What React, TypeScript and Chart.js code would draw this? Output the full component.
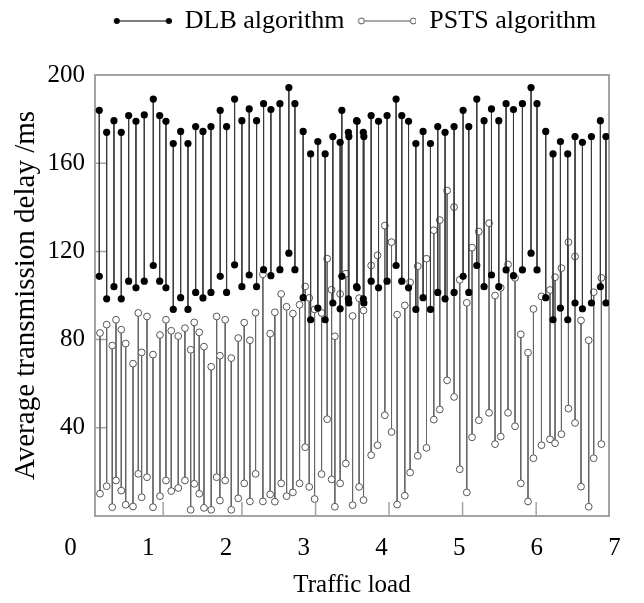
import React, { useEffect, useRef } from 'react';
import { Chart, registerables } from 'chart.js';

Chart.register(...registerables);

const seriesNames = ['DLB algorithm', 'PSTS algorithm'];

const dlbLoad = [0.370,0.465,0.559,0.653,0.748,0.842,0.949,1.065,1.147,1.228,1.322,1.417,1.511,1.610,1.704,1.807,1.926,2.008,2.111,2.205,2.299,2.394,2.484,2.578,2.694,2.809,2.887,2.993,3.089,3.182,3.276,3.375,3.469,3.491,3.575,3.581,3.680,3.688,3.767,3.774,3.868,3.963,4.073,4.189,4.262,4.349,4.443,4.536,4.631,4.725,4.819,4.935,5.051,5.124,5.227,5.321,5.416,5.510,5.604,5.699,5.814,5.925,6.002,6.114,6.208,6.303,6.397,6.491,6.586,6.702,6.817,6.889];
const dlbHigh = [184.0,174.0,179.3,174.0,181.6,179.0,181.9,189.1,181.6,179.0,168.9,174.4,168.9,176.6,174.4,176.6,184.0,176.6,189.1,179.3,184.6,179.3,187.0,184.3,187.0,194.3,187.0,174.4,164.2,169.8,164.2,172.1,169.5,184.0,174.0,172.1,179.3,179.0,174.0,172.1,181.6,179.0,181.6,189.1,181.6,179.0,168.9,174.4,168.9,176.6,174.0,176.6,184.0,176.6,189.1,179.3,184.6,179.3,187.0,184.3,187.0,194.3,187.0,174.4,164.2,169.8,164.2,172.1,169.5,172.1,179.3,172.1];
const dlbLow = [108.7,98.5,104.0,98.5,106.5,103.5,106.5,113.6,106.5,103.5,93.7,99.0,93.7,101.4,98.9,101.4,108.7,101.4,113.9,104.0,109.3,104.0,111.7,109.0,111.7,119.2,111.7,99.0,89.0,94.3,89.0,96.6,94.0,108.7,98.5,96.6,104.0,103.5,98.5,96.6,106.5,103.5,106.5,113.6,106.5,103.5,93.7,99.0,93.7,101.4,98.5,101.4,108.7,101.4,113.6,104.0,109.3,104.0,111.6,109.0,111.6,119.2,111.6,99.0,89.0,94.3,89.0,96.6,94.0,96.6,104.0,96.6];

const pstsLoad = [0.379,0.465,0.537,0.585,0.653,0.710,0.804,0.872,0.915,0.984,1.061,1.151,1.228,1.296,1.386,1.472,1.546,1.592,1.656,1.717,1.810,1.880,1.922,1.990,2.068,2.158,2.235,2.308,2.381,2.475,2.569,2.629,2.710,2.780,2.861,2.947,3.019,3.071,3.140,3.230,3.302,3.359,3.401,3.469,3.542,3.629,3.713,3.770,3.868,3.950,4.044,4.130,4.202,4.301,4.369,4.468,4.580,4.674,4.751,4.845,4.935,5.008,5.098,5.166,5.253,5.385,5.462,5.535,5.629,5.719,5.793,5.886,5.956,6.059,6.169,6.234,6.316,6.406,6.491,6.568,6.667,6.731,6.830];
const pstsHigh = [83.0,86.8,77.3,89.0,84.5,78.2,69.1,92.1,74.2,90.5,73.2,82.1,89.0,84.0,81.6,85.2,75.4,87.8,83.3,76.8,67.7,90.5,72.7,89.0,71.6,80.7,87.7,79.7,92.2,109.6,82.7,92.4,100.7,94.9,91.8,95.8,104.1,98.9,93.7,92.1,116.7,102.6,81.5,100.7,109.9,90.7,98.8,93.2,113.6,118.2,131.7,124.2,91.3,95.5,106.0,113.3,116.7,129.6,134.2,147.6,140.1,107.1,96.7,121.7,129.0,132.8,100.0,103.5,114.1,108.0,82.4,74.1,93.9,99.6,102.5,108.3,112.4,124.2,117.7,88.7,79.7,101.5,108.0];
const pstsLow = [10.1,13.5,4.0,16.1,11.5,5.1,4.3,19.1,8.5,17.6,4.0,9.0,16.1,11.3,12.7,16.1,2.8,14.6,10.1,3.7,2.8,17.6,7.0,16.1,2.8,8.0,14.8,6.6,19.1,6.6,9.8,6.5,14.8,9.0,10.7,14.8,31.2,13.2,7.7,19.0,43.9,16.6,4.2,14.8,23.8,4.9,13.2,7.2,27.6,32.1,45.7,38.1,5.2,9.2,19.7,27.3,30.9,43.7,48.3,61.5,54.0,21.2,10.7,35.7,43.4,46.8,32.6,36.0,46.8,40.7,14.8,6.6,26.2,32.1,34.8,33.0,37.1,48.7,42.2,13.3,4.2,26.2,32.6];

const xTickValues = [0, 1, 2, 3, 4, 5, 6, 7];
const yTickValues = [40, 80, 120, 160, 200];
const xMarkValues = [1.192, 2.206, 3.153, 4.098, 5.044, 5.991];
const xRange = [0.315, 6.928];
const yRange = [0, 200];

const FONT = 'Liberation Serif';
const FRAME = '#a3a3a3';
const SAMPLE_W = 64;

function stems(xs: number[], hi: number[], lo: number[]) {
  const out: any[] = [];
  xs.forEach((x, i) => {
    out.push({ x, y: hi[i] }, { x, y: lo[i] }, { x, y: null });
  });
  return out;
}

function makeSample(filled: boolean) {
  const c = document.createElement('canvas');
  c.width = SAMPLE_W;
  c.height = 10;
  const g = c.getContext('2d')!;
  const col = filled ? '#000' : '#555';
  const x0 = 9;
  const x1 = SAMPLE_W - 3;
  g.strokeStyle = col;
  g.lineWidth = 1;
  g.beginPath();
  g.moveTo(x0, 5);
  g.lineTo(x1, 5);
  g.stroke();
  for (const cx of [x0, x1]) {
    g.beginPath();
    g.arc(cx, 5, 3, 0, Math.PI * 2);
    if (filled) {
      g.fillStyle = '#000';
      g.fill();
    } else {
      g.fillStyle = '#fff';
      g.fill();
      g.stroke();
    }
  }
  return c;
}

const innerTicks = {
  id: 'innerTicks',
  beforeDatasetsDraw(chart: any) {
    const { ctx, chartArea: a, scales } = chart;
    ctx.save();
    ctx.strokeStyle = FRAME;
    ctx.lineWidth = 1.5;
    ctx.beginPath();
    for (const v of yTickValues) {
      if (v >= yRange[1]) continue;
      const y = scales.y.getPixelForValue(v);
      ctx.moveTo(a.left, y);
      ctx.lineTo(a.left + 11, y);
    }
    for (const v of xMarkValues) {
      const x = scales.x.getPixelForValue(v);
      ctx.moveTo(x, a.bottom);
      ctx.lineTo(x, a.bottom - 14);
    }
    ctx.stroke();
    ctx.restore();
  },
};

export default function App() {
  const ref = useRef<HTMLCanvasElement | null>(null);

  useEffect(() => {
    document.body.style.margin = '0';
    const canvas = ref.current;
    if (!canvas) return;
    const samples = [makeSample(true), makeSample(false)];
    const border = { display: true, color: FRAME, width: 2 };
    const grid = { display: true, drawOnChartArea: false, drawTicks: false };

    const chart = new Chart(canvas, {
      type: 'line',
      data: {
        datasets: [
          {
            label: seriesNames[0],
            data: stems(dlbLoad, dlbHigh, dlbLow),
            borderColor: '#3a3a3a',
            borderWidth: 1,
            pointRadius: 3.6,
            pointBackgroundColor: '#000',
            pointBorderColor: '#000',
            pointBorderWidth: 0,
            spanGaps: false,
            tension: 0,
          },
          {
            label: seriesNames[1],
            data: stems(pstsLoad, pstsHigh, pstsLow),
            borderColor: '#666',
            borderWidth: 1,
            pointRadius: 3.4,
            pointBackgroundColor: '#fff',
            pointBorderColor: '#555',
            pointBorderWidth: 1,
            spanGaps: false,
            tension: 0,
          },
        ],
      },
      options: {
        responsive: false,
        animation: false,
        devicePixelRatio: 1,
        layout: { padding: 0 },
        font: { family: FONT },
        scales: {
          x: {
            type: 'linear',
            position: 'bottom',
            min: xRange[0],
            max: xRange[1],
            afterBuildTicks: (s: any) => {
              s.ticks = xTickValues.map((v) => ({ value: v }));
            },
            afterFit: (s: any) => {
              s.height = 87;
            },
            grid,
            border,
            ticks: {
              autoSkip: false,
              maxRotation: 0,
              minRotation: 0,
              padding: 17,
              color: '#000',
              font: { family: FONT, size: 25 },
              callback: (v: any) => String(v),
            },
            title: {
              display: true,
              text: 'Traffic load',
              color: '#000',
              font: { family: FONT, size: 25 },
              padding: { top: 0, bottom: 3 },
            },
          },
          y: {
            type: 'linear',
            position: 'left',
            min: yRange[0],
            max: yRange[1],
            afterBuildTicks: (s: any) => {
              s.ticks = yTickValues.map((v) => ({ value: v }));
            },
            afterFit: (s: any) => {
              s.width = 95;
            },
            grid,
            border,
            ticks: {
              padding: 10,
              color: '#000',
              font: { family: FONT, size: 25 },
            },
            title: {
              display: true,
              text: 'Average transmission delay /ms',
              color: '#000',
              font: { family: FONT, size: 29 },
              padding: { top: 9, bottom: 0 },
            },
          },
          xTop: {
            type: 'linear',
            axis: 'x',
            position: 'top',
            afterFit: (s: any) => {
              s.height = 31;
            },
            grid,
            border,
            ticks: { display: false },
          },
          yRight: {
            type: 'linear',
            axis: 'y',
            position: 'right',
            afterFit: (s: any) => {
              s.width = 35;
            },
            grid,
            border,
            ticks: { display: false },
          },
        } as any,
        plugins: {
          tooltip: { enabled: false },
          legend: {
            position: 'top',
            fullSize: false,
            labels: {
              usePointStyle: true,
              pointStyleWidth: SAMPLE_W,
              padding: 8,
              color: '#000',
              font: { family: FONT, size: 26 },
              generateLabels: (c: any) => {
                const items = (Chart.defaults.plugins.legend.labels as any).generateLabels(c);
                return items.map((it: any, i: number) => ({ ...it, pointStyle: samples[i] }));
              },
            },
          },
        },
      } as any,
      plugins: [innerTicks],
    });

    return () => chart.destroy();
  }, []);

  return (
    <div style={{ width: 644, height: 603 }}>
      <canvas ref={ref} width={644} height={603} style={{ display: 'block' }} />
    </div>
  );
}
